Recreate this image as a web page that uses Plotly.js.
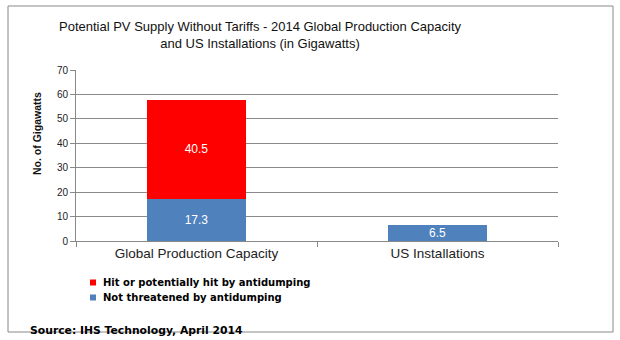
<!DOCTYPE html>
<html>
<head>
<meta charset="utf-8">
<script src="https://cdn.plot.ly/plotly-3.0.1.min.js"></script>
<style>html,body{margin:0;padding:0;background:#fff;} #chart{width:620px;height:340px;}</style>
</head>
<body>
<div id="chart"></div>
<script>
var categories = ["Global Production Capacity", "US Installations"];
var notThreatened = [17.3, 6.5];
var hitByAntidumping = [40.5, null];
var seriesNames = ["Not threatened by antidumping", "Hit or potentially hit by antidumping"];
var yTicks = [0, 10, 20, 30, 40, 50, 60, 70];

var font = "Liberation Sans, Arial, sans-serif";
var wideBold = "DejaVu Sans, Verdana, sans-serif";

function fmt(v){ return v == null ? "" : v.toFixed(1); }

var traces = [
  {
    type: "bar", x: categories, y: notThreatened, name: seriesNames[0],
    marker: {color: "#4F81BD"},
    text: notThreatened.map(fmt),
    textposition: "inside", insidetextanchor: "middle", constraintext: "none",
    textfont: {color: "#ffffff", size: 12, family: font},
    hoverinfo: "none"
  },
  {
    type: "bar", x: categories, y: hitByAntidumping, name: seriesNames[1],
    marker: {color: "#FF0000"},
    text: hitByAntidumping.map(fmt),
    textposition: "inside", insidetextanchor: "middle", constraintext: "none",
    textfont: {color: "#ffffff", size: 12, family: font},
    hoverinfo: "none"
  }
];

function px2x(p){ return (p - 76) / 482; }
function py2y(p){ return (241 - p) / 171; }

var layout = {
  width: 620, height: 340,
  margin: {l: 76, r: 62, t: 70, b: 99},
  paper_bgcolor: "#ffffff", plot_bgcolor: "#ffffff",
  barmode: "stack", bargap: 0.59,
  font: {family: font, color: "#000"},
  title: {
    text: "Potential PV Supply Without Tariffs - 2014 Global Production Capacity<br>and US Installations (in Gigawatts)",
    x: 260/620, xref: "container", xanchor: "center",
    y: 1 - 31/340, yref: "container", yanchor: "middle",
    font: {size: 13, family: font, color: "#111"}
  },
  xaxis: {
    type: "category", showline: true, linecolor: "#888", linewidth: 1,
    ticks: "outside", tickson: "boundaries", ticklen: 5, tickcolor: "#888",
    tickfont: {size: 13.5, color: "#222", family: font},
    showgrid: false, fixedrange: true
  },
  yaxis: {
    range: [0, 70], tickvals: yTicks, ticktext: yTicks.map(String),
    showline: true, linecolor: "#888", linewidth: 1,
    ticks: "outside", ticklen: 5, tickcolor: "#888",
    showgrid: true, gridcolor: "#8a8a8a", gridwidth: 1,
    tickfont: {size: 10, color: "#222", family: font},
    zeroline: false, fixedrange: true
  },
  legend: {
    traceorder: "reversed",
    x: px2x(73), xanchor: "left", y: py2y(268), yanchor: "top",
    xref: "paper", yref: "paper",
    font: {size: 10, color: "#000", family: wideBold, weight: "bold"},
    bgcolor: "rgba(0,0,0,0)"
  },
  showlegend: true,
  shapes: [
    {type: "rect", xref: "paper", yref: "paper",
     x0: px2x(8), x1: px2x(613), y0: py2y(332), y1: py2y(6),
     line: {color: "#888", width: 1}, fillcolor: "rgba(0,0,0,0)", layer: "below"}
  ],
  annotations: [
    {text: "<b>No. of Gigawatts</b>", xref: "paper", yref: "paper",
     x: px2x(37), y: py2y(134), xanchor: "center", yanchor: "middle", textangle: -90,
     showarrow: false, font: {size: 10.5, color: "#111", family: font}},
    {text: "<b>Source: IHS Technology, April 2014</b>", xref: "paper", yref: "paper",
     x: px2x(28), y: py2y(330), xanchor: "left", yanchor: "middle", showarrow: false,
     font: {size: 10.8, color: "#000", family: wideBold}}
  ]
};

Plotly.newPlot("chart", traces, layout, {displayModeBar: false, staticPlot: true}).then(function(gd){
  // Excel-like compact legend: small square keys, tight rows
  var items = gd.querySelectorAll(".legend .traces");
  var baseY = null;
  items.forEach(function(item, i){
    item.querySelectorAll(".legendpoints path").forEach(function(p){
      p.setAttribute("d", "M3,3H-3V-3H3Z");
      p.style.strokeWidth = "0";
    });
    var t = item.querySelector(".legendtext");
    if (t) t.setAttribute("x", "30");
    var tr = item.getAttribute("transform") || "";
    var m = tr.match(/translate\(\s*([-\d.]+)[ ,]+([-\d.]+)\s*\)/);
    if (m) {
      var x = parseFloat(m[1]), y = parseFloat(m[2]);
      if (baseY === null) baseY = y;
      item.setAttribute("transform", "translate(" + x + "," + (baseY + i * 15) + ")");
    }
  });
});
</script>
</body>
</html>
